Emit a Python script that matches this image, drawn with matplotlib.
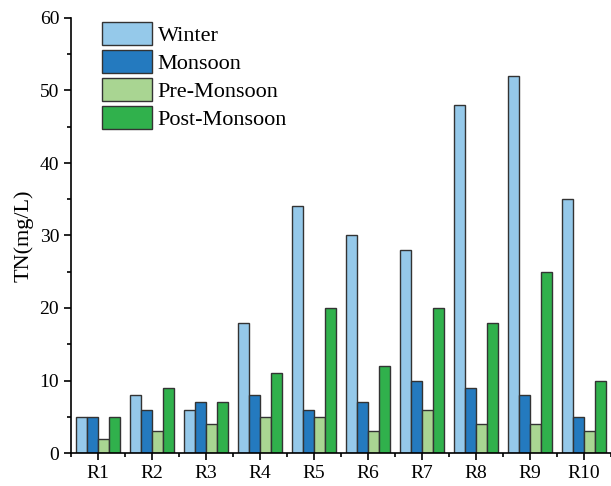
import numpy as np
import matplotlib.pyplot as plt
from matplotlib.ticker import MultipleLocator, FixedLocator

plt.rcParams['font.family'] = ['Liberation Serif', 'DejaVu Serif']

sites = ['R1', 'R2', 'R3', 'R4', 'R5', 'R6', 'R7', 'R8', 'R9', 'R10']
winter = [5, 8, 6, 18, 34, 30, 28, 48, 52, 35]
monsoon = [5, 6, 7, 8, 6, 7, 10, 9, 8, 5]
pre_monsoon = [2, 3, 4, 5, 5, 3, 6, 4, 4, 3]
post_monsoon = [5, 9, 7, 11, 20, 12, 20, 18, 25, 10]

series = [('Winter', winter, '#95c9ea'),
          ('Monsoon', monsoon, '#247abf'),
          ('Pre-Monsoon', pre_monsoon, '#a9d592'),
          ('Post-Monsoon', post_monsoon, '#30b14c')]

fig = plt.figure(figsize=(6.11, 4.86), dpi=100)
ax = fig.add_axes([71/611, 33/486, 540/611, 435/486])

x = np.arange(len(sites))
w = 0.2
for i, (name, vals, col) in enumerate(series):
    ax.bar(x + (i - 1.5) * w, vals, w, color=col, edgecolor='#333333',
           linewidth=1.0, label=name)

ax.set_xlim(-0.5, 9.5)
ax.set_ylim(0, 60)
ax.set_xticks(x)
ax.set_xticklabels(sites)
ax.xaxis.set_minor_locator(FixedLocator(np.arange(-0.5, 9.6, 1)))
ax.yaxis.set_major_locator(MultipleLocator(10))
ax.yaxis.set_minor_locator(MultipleLocator(5))
ax.tick_params(which='major', direction='out', length=5, width=1.2, labelsize=14)
ax.tick_params(which='minor', direction='out', length=3, width=1.2)
ax.spines['top'].set_visible(False)
ax.spines['right'].set_visible(False)
ax.spines['left'].set_linewidth(1.2)
ax.spines['bottom'].set_linewidth(1.2)
ax.set_ylabel('TN(mg/L)', fontsize=16, labelpad=4)

ax.legend(loc='upper left', bbox_to_anchor=(0.057, 0.99), frameon=False,
          fontsize=16, handlelength=2.25, handleheight=1.22, labelspacing=0.17,
          handletextpad=0.27, borderpad=0.0, borderaxespad=0.0)

plt.savefig('out.png', dpi=100)
